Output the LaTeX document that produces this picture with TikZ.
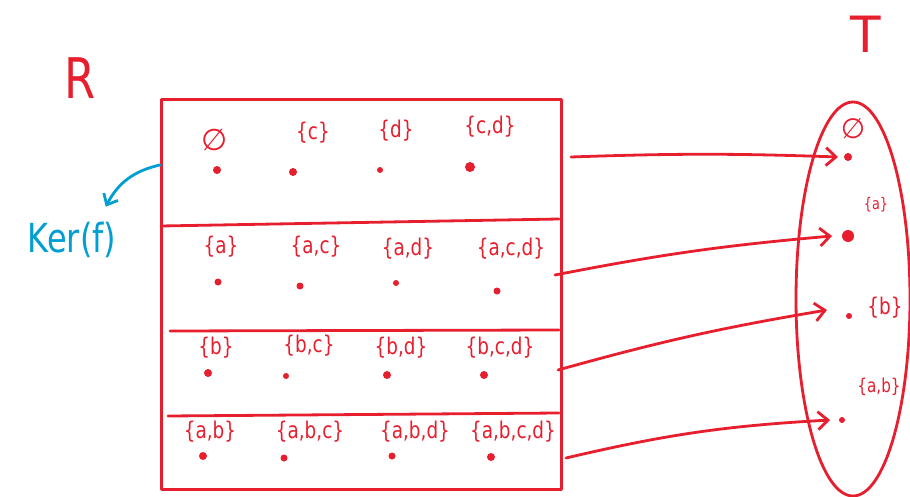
\documentclass[tikz,border=0pt]{standalone}
\usepackage{fontspec}
\setmainfont{DejaVu Sans}
\usetikzlibrary{shapes.geometric,arrows.meta}
\definecolor{pen}{RGB}{230,30,45}
\definecolor{bluepen}{RGB}{0,158,210}
\newcommand{\hw}[1]{\scalebox{0.8}[1]{#1}}
\begin{document}
\begin{tikzpicture}[x=1pt,y=-1pt,
  ink/.style={draw=pen,line width=2.8pt,line cap=round,line join=round},
  lab/.style={text=pen,font=\fontsize{23}{23}\selectfont,inner sep=1pt},
  pt/.style={circle,fill=pen,inner sep=0pt,minimum size=8pt},
  map/.style={ink,-{Straight Barb[length=10pt,width=18pt]}}]
\useasboundingbox (0,0) rectangle (910,497);
% box R
\node[ink,rectangle,minimum width=400pt,minimum height=390pt,anchor=north west,inner sep=0pt] (R) at (160,98) {};
\coordinate (l1) at (161,226); \coordinate (r1) at (559,219);
\coordinate (l2) at (170,331); \coordinate (r2) at (559,330);
\coordinate (l3) at (168,416); \coordinate (r3) at (559,413);
\draw[ink] (l1) -- (r1); \draw[ink] (l2) -- (r2); \draw[ink] (l3) -- (r3);
\node[text=pen,font=\fontsize{56}{56}\selectfont] (Rl) at (80,78) {\hw{R}};
\node[text=pen,font=\fontsize{50}{50}\selectfont] (Tl) at (866,34) {T};
% row 1
\node[lab,font=\fontsize{30}{30}\selectfont] (t11) at (215,140) {∅};
\node[lab] (t12) at (313,133) {\hw{\{c\}}};
\node[lab] (t13) at (396,131) {\hw{\{d\}}};
\node[lab] (t14) at (490,127) {\hw{\{c,d\}}};
\node[pt] (p11) at (217,170) {}; \node[pt] (p12) at (293,172) {};
\node[pt,minimum size=6pt] (p13) at (380,170) {}; \node[pt,minimum size=10pt] (p14) at (470,167) {};
% row 2
\node[lab] (t21) at (221,247) {\hw{\{a\}}};
\node[lab] (t22) at (316,247) {\hw{\{a,c\}}};
\node[lab] (t23) at (408,249) {\hw{\{a,d\}}};
\node[lab] (t24) at (511,249) {\hw{\{a,c,d\}}};
\node[pt,minimum size=7pt] (p21) at (218,282) {}; \node[pt,minimum size=7pt] (p22) at (300,286) {};
\node[pt,minimum size=6pt] (p23) at (396,283) {}; \node[pt,minimum size=7pt] (p24) at (497,291) {};
% row 3
\node[lab] (t31) at (216,348) {\hw{\{b\}}};
\node[lab] (t32) at (309,346) {\hw{\{b,c\}}};
\node[lab] (t33) at (401,348) {\hw{\{b,d\}}};
\node[lab] (t34) at (500,348) {\hw{\{b,c,d\}}};
\node[pt] (p31) at (208,373) {}; \node[pt,minimum size=6pt] (p32) at (286,376) {};
\node[pt] (p33) at (387,375) {}; \node[pt] (p34) at (484,375) {};
% row 4
\node[lab] (t41) at (210,432) {\hw{\{a,b\}}};
\node[lab] (t42) at (310,432) {\hw{\{a,b,c\}}};
\node[lab] (t43) at (415,432) {\hw{\{a,b,d\}}};
\node[lab] (t44) at (513,432) {\hw{\{a,b,c,d\}}};
\node[pt] (p41) at (203,456) {}; \node[pt,minimum size=7pt] (p42) at (284,458) {};
\node[pt,minimum size=7pt] (p43) at (392,456) {}; \node[pt] (p44) at (491,457) {};
% T
\node[ink,ellipse,minimum width=114pt,minimum height=394pt,inner sep=0pt] (T) at (853,299) {};
\node[pt] (q1) at (848,157) {};
\node[lab,font=\fontsize{28}{28}\selectfont] (u1) at (853,129) {∅};
\node[pt,minimum size=12pt] (q2) at (848,236) {};
\node[lab,font=\fontsize{16}{16}\selectfont] (u2) at (876,205) {\hw{\{a\}}};
\node[pt,minimum size=6pt] (q3) at (849,316) {};
\node[lab] (u3) at (885,308) {\hw{\{b\}}};
\node[pt,minimum size=6pt] (q4) at (842,420) {};
\node[lab,font=\fontsize{19}{19}\selectfont] (u4) at (879,387) {\hw{\{a,b\}}};
% arrows
\coordinate (s1) at (571,157); \coordinate (s2) at (555,275);
\coordinate (s3) at (558,370); \coordinate (s4) at (566,458);
\draw[map] (s1) to[bend left=2] ([xshift=-10pt]q1.center);
\draw[map] (s2) to[bend left=3] ([xshift=-16pt]q2.center);
\draw[map] (s3) to[bend left=3] ([xshift=-22pt,yshift=6pt]q3.center);
\draw[map] (s4) to[bend left=5] ([xshift=-12pt]q4.center);
% Ker(f)
\node[text=bluepen,font=\fontsize{40}{40}\selectfont] (K) at (72,240) {\hw{Ker(f)}};
\coordinate (kc) at (160,165);
\draw[draw=bluepen,line width=2.8pt,line cap=round,-{Straight Barb[length=9pt,width=16pt]}] (kc) to[bend right=25] ([xshift=-14pt,yshift=12pt]K.north east);
\end{tikzpicture}
\end{document}
